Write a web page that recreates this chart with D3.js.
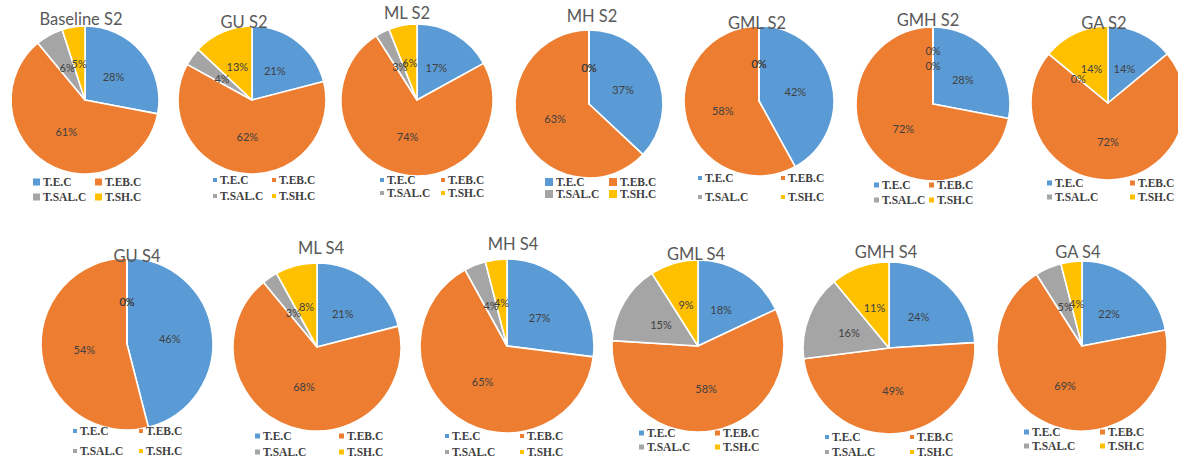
<!DOCTYPE html>
<html>
<head>
<meta charset="utf-8">
<script src="https://cdn.jsdelivr.net/npm/d3@7"></script>
<style>
  html, body { margin: 0; padding: 0; background: #ffffff; }
  svg { display: block; }
</style>
</head>
<body>
<svg id="chart" width="1178" height="460"></svg>
<script>
// Cost shares per scenario (percent of total)
const categories = ["T.E.C", "T.EB.C", "T.SAL.C", "T.SH.C"];
const chartTitles = ["Baseline S2", "GU S2", "ML S2", "MH S2", "GML S2", "GMH S2", "GA S2",
                     "GU S4", "ML  S4", "MH  S4", "GML S4", "GMH S4", "GA S4"];
const tecValues  = [28, 21, 17, 37, 42, 28, 14, 46, 21, 27, 18, 24, 22];
const tebValues  = [61, 62, 74, 63, 58, 72, 72, 54, 68, 65, 58, 49, 69];
const tsalValues = [ 6,  4,  3,  0,  0,  0,  0,  0,  3,  4, 15, 16,  5];
const tshValues  = [ 5, 13,  6,  0,  0,  0, 14,  0,  8,  4,  9, 11,  4];

const colors = ["#5B9BD5", "#ED7D31", "#A5A5A5", "#FFC000"];

// Placement of each small pie: centre, radius, title, legend columns/rows, legend key size
const layout = [
  { cx:   85, cy: 100, r: 74, tx:   81, ty:  25, lx: [  43,  105], ly: [182, 197], ks: 7 },
  { cx:  252, cy: 100, r: 74, tx:  244, ty:  28, lx: [ 220,  279], ly: [180, 196], ks: 4 },
  { cx:  417, cy: 100, r: 76, tx:  407, ty:  19, lx: [ 387,  448], ly: [180, 193], ks: 4 },
  { cx:  589, cy: 104, r: 74, tx:  592, ty:  22, lx: [ 556,  620], ly: [182, 194], ks: 8 },
  { cx:  759, cy: 101, r: 75, tx:  757, ty:  29, lx: [ 705,  788], ly: [178, 197], ks: 4 },
  { cx:  933, cy: 104, r: 77, tx:  928, ty:  26, lx: [ 882,  937], ly: [185, 200], ks: 5 },
  { cx: 1108, cy: 103, r: 77, tx: 1104, ty:  29, lx: [1055, 1138], ly: [183, 197], ks: 5 },
  { cx:  127, cy: 344, r: 86, tx:  137, ty: 262, lx: [  80,  146], ly: [431, 451], ks: 4 },
  { cx:  317, cy: 347, r: 84, tx:  321, ty: 254, lx: [ 263,  347], ly: [436, 452], ks: 5 },
  { cx:  507, cy: 346, r: 87, tx:  513, ty: 250, lx: [ 452,  527], ly: [436, 452], ks: 4 },
  { cx:  698, cy: 346, r: 86, tx:  696, ty: 260, lx: [ 647,  723], ly: [433, 447], ks: 5 },
  { cx:  889, cy: 348, r: 86, tx:  886, ty: 258, lx: [ 832,  917], ly: [437, 452], ks: 4 },
  { cx: 1082, cy: 346, r: 85, tx: 1078, ty: 258, lx: [1032, 1108], ly: [432, 446], ks: 5 }
];

// Pies where several empty slices sit at the same angle get their labels stacked
const stackedZeroLabels = new Set(["GMH S2"]);

const svg = d3.select("#chart");
const pie = d3.pie().sort(null).value(d => d.value);
const color = d3.scaleOrdinal().domain(categories).range(colors);

chartTitles.forEach((title, i) => {
  const L = layout[i];
  const rows = categories.map((c, k) => ({
    name: c,
    value: [tecValues, tebValues, tsalValues, tshValues][k][i]
  }));
  const arcs = pie(rows);
  const arc = d3.arc().innerRadius(0).outerRadius(L.r);

  const g = svg.append("g").attr("transform", `translate(${L.cx},${L.cy})`);

  g.selectAll("path.slice")
    .data(arcs)
    .join("path")
    .attr("class", "slice")
    .attr("d", arc)
    .attr("fill", d => color(d.data.name))
    .attr("stroke", "#ffffff")
    .attr("stroke-width", 1.6)
    .attr("stroke-linejoin", "round");

  // Percentage labels at half radius along each slice's mid angle
  let zeroCount = 0;
  g.selectAll("text.pct")
    .data(arcs)
    .join("text")
    .attr("class", "pct")
    .attr("transform", d => {
      const a = (d.startAngle + d.endAngle) / 2;
      let rr = L.r * 0.5;
      if (d.data.value === 0 && stackedZeroLabels.has(title)) {
        rr = L.r * (0.7 - 0.2 * zeroCount);
        zeroCount++;
      }
      return `translate(${Math.sin(a) * rr},${-Math.cos(a) * rr})`;
    })
    .attr("text-anchor", "middle")
    .attr("dominant-baseline", "central")
    .attr("font-family", "Lato, 'Open Sans', sans-serif")
    .attr("font-size", 11)
    .attr("fill", "#404040")
    .text(d => d.data.value + "%");

  // Title
  svg.append("text")
    .attr("x", L.tx)
    .attr("y", L.ty)
    .attr("text-anchor", "middle")
    .attr("font-family", "Lato, 'Open Sans', sans-serif")
    .attr("font-size", 16.5)
    .attr("fill", "#595959")
    .text(title);

  // Legend: two columns, two rows
  const lg = svg.append("g");
  categories.forEach((c, k) => {
    const x = L.lx[k % 2];
    const y = L.ly[Math.floor(k / 2)];
    lg.append("rect")
      .attr("x", x - L.ks - 3)
      .attr("y", y - L.ks / 2)
      .attr("width", L.ks)
      .attr("height", L.ks)
      .attr("fill", color(c));
    lg.append("text")
      .attr("x", x)
      .attr("y", y)
      .attr("dominant-baseline", "central")
      .attr("font-family", "'Liberation Serif', 'Times New Roman', serif")
      .attr("font-weight", "bold")
      .attr("font-size", 11.5)
      .attr("fill", "#404040")
      .text(c);
  });
});
</script>
</body>
</html>
